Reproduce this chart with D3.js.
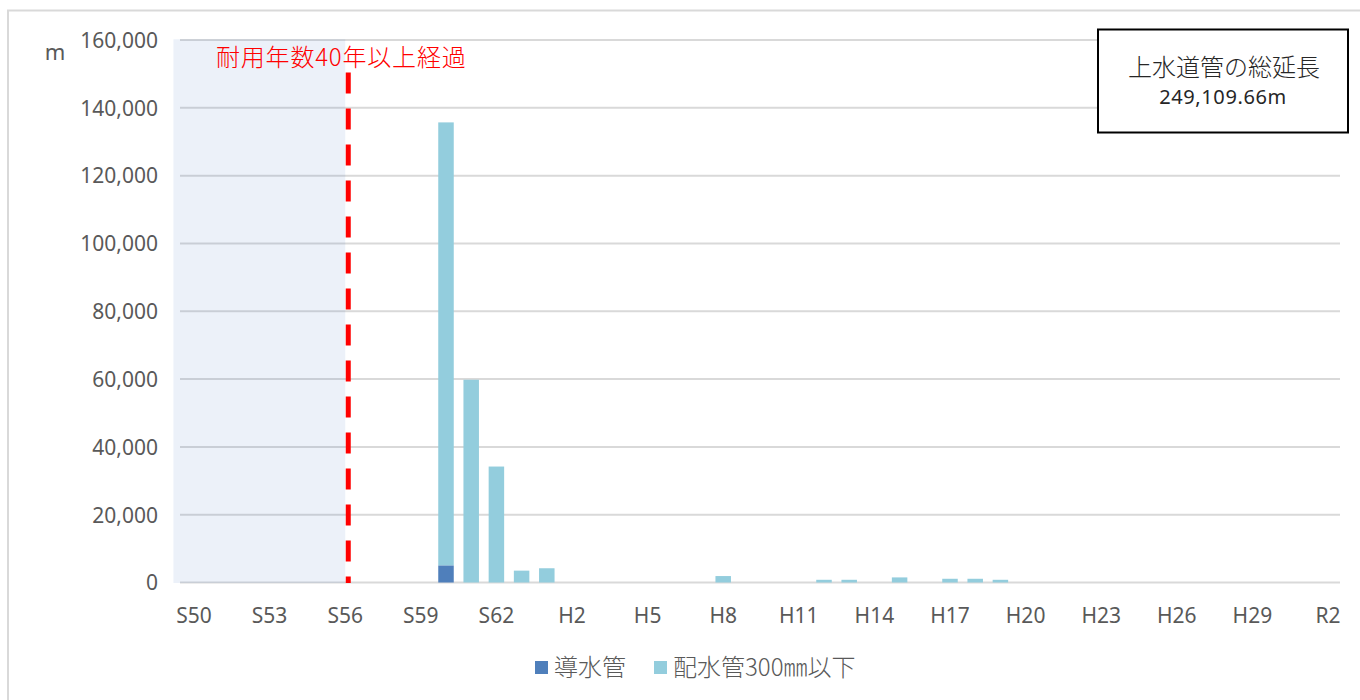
<!DOCTYPE html>
<html>
<head>
<meta charset="utf-8">
<script src="https://cdn.jsdelivr.net/npm/d3@7"></script>
<style>
  html, body { margin: 0; padding: 0; background: #fff; }
  svg { display: block; }
</style>
</head>
<body>
<svg id="chart" width="1360" height="700"></svg>
<script>
// Installation year (Showa / Heisei / Reiwa)
const years = [
  "S50","S51","S52","S53","S54","S55","S56","S57","S58","S59",
  "S60","S61","S62","S63",
  "H1","H2","H3","H4","H5","H6","H7","H8","H9","H10",
  "H11","H12","H13","H14","H15","H16","H17","H18","H19","H20",
  "H21","H22","H23","H24","H25","H26","H27","H28","H29","H30",
  "R1","R2"
];
// 導水管 length (m) per year
const dousuikan = [
  0,0,0,0,0,0,0,0,0,0,
  5000,0,0,0,
  0,0,0,0,0,0,0,0,0,0,
  0,0,0,0,0,0,0,0,0,0,
  0,0,0,0,0,0,0,0,0,0,
  0,0
];
// 配水管300㎜以下 length (m) per year
const haisuikan = [
  0,0,0,0,0,0,0,0,0,0,
  130700,59800,34200,3500,
  4200,0,0,0,0,0,0,1900,0,0,
  0,800,800,0,1500,0,1100,1100,800,0,
  0,0,0,0,0,0,0,0,0,0,
  0,0
];
const xTickLabels = ["S50","S53","S56","S59","S62","H2","H5","H8","H11","H14","H17","H20","H23","H26","H29","R2"];
const yTicks = [0,20000,40000,60000,80000,100000,120000,140000,160000];
const seriesNames = ["導水管","配水管300㎜以下"];
const seriesColors = ["#4f7fbb","#93cddd"];
const lifeLimitYear = "S56";
const lifeLimitLabel = "耐用年数40年以上経過";
const totalTitle = "上水道管の総延長";
const totalValue = "249,109.66m";
const unitLabel = "m";

const latin = "'Noto Sans', 'Noto Sans CJK JP', sans-serif";
const cjk = "'Noto Sans CJK JP', 'Noto Sans', sans-serif";
const axisGray = "#595959";

const svg = d3.select("#chart");

// outer chart frame
svg.append("rect")
  .attr("x", 8).attr("y", 10.5).attr("width", 1400).attr("height", 800)
  .attr("fill", "none").attr("stroke", "#d9d9d9").attr("stroke-width", 2);

const x = d3.scaleBand().domain(years).range([181.4, 1340.6])
  .paddingInner(0.385).paddingOuter(0.1925);
const y = d3.scaleLinear().domain([0, 160000]).range([582.5, 40]);

// horizontal gridlines
svg.append("g").selectAll("line").data(yTicks).join("line")
  .attr("x1", 180).attr("x2", 1340)
  .attr("y1", d => y(d)).attr("y2", d => y(d))
  .attr("stroke", "#d9d9d9").attr("stroke-width", 2);

// shaded span of pipes older than 40 years
const limitX = x(lifeLimitYear) + x.bandwidth() / 2 + x.step() * x.paddingInner() / 2 - 4.8;
svg.append("rect")
  .attr("x", x.range()[0] - 8).attr("y", y(160000) - 0.7)
  .attr("width", limitX - (x.range()[0] - 8))
  .attr("height", y(0) - y(160000) + 1.2)
  .attr("fill", "rgb(68,114,196)").attr("fill-opacity", 0.1);

// stacked bars
const stack = years.map((yr, i) => ({ yr, a: dousuikan[i], b: haisuikan[i] }));
const bars = svg.append("g");
bars.selectAll("rect.b").data(stack.filter(d => d.b > 0)).join("rect")
  .attr("class", "b")
  .attr("x", d => x(d.yr)).attr("width", x.bandwidth())
  .attr("y", d => y(d.a + d.b)).attr("height", d => y(d.a) - y(d.a + d.b))
  .attr("fill", seriesColors[1]);
bars.selectAll("rect.a").data(stack.filter(d => d.a > 0)).join("rect")
  .attr("class", "a")
  .attr("x", d => x(d.yr)).attr("width", x.bandwidth())
  .attr("y", d => y(d.a)).attr("height", d => y(0) - y(d.a))
  .attr("fill", seriesColors[0]);

// red dashed boundary line
svg.append("line")
  .attr("x1", limitX + 3).attr("x2", limitX + 3)
  .attr("y1", 72.5).attr("y2", y(0) + 0.5)
  .attr("stroke", "#ff0000").attr("stroke-width", 5)
  .attr("stroke-dasharray", "21,15");

svg.append("text")
  .attr("x", limitX - 4).attr("y", 66)
  .attr("text-anchor", "middle")
  .attr("font-family", cjk).attr("font-size", 24).attr("font-weight", 300)
  .attr("letter-spacing", 0.8)
  .attr("fill", "#ff0000")
  .text(lifeLimitLabel);

// y axis labels
const yAxis = svg.append("g").attr("transform", "translate(158,0)")
  .call(d3.axisLeft(y).tickValues(yTicks).tickSize(0).tickPadding(0)
    .tickFormat(d3.format(",")));
yAxis.select(".domain").remove();
yAxis.selectAll("text")
  .attr("font-family", latin).attr("font-size", 21).attr("fill", axisGray)
  .attr("dy", "0.35em");

// x axis labels
const xAxis = svg.append("g").attr("transform", `translate(0,${y(0)})`)
  .call(d3.axisBottom(x).tickValues(xTickLabels).tickSize(0).tickPadding(0));
xAxis.select(".domain").remove();
xAxis.selectAll("text")
  .attr("font-family", latin).attr("font-size", 21).attr("fill", axisGray)
  .attr("dy", null).attr("y", 40);

// unit label
svg.append("text")
  .attr("x", 55).attr("y", 60).attr("text-anchor", "middle")
  .attr("font-family", latin).attr("font-size", 22).attr("fill", axisGray)
  .text(unitLabel);

// total length box
svg.append("rect")
  .attr("x", 1098).attr("y", 29.5).attr("width", 250).attr("height", 103)
  .attr("fill", "#fff").attr("stroke", "#000").attr("stroke-width", 2);
svg.append("text")
  .attr("x", 1224).attr("y", 76).attr("text-anchor", "middle")
  .attr("font-family", cjk).attr("font-size", 24).attr("font-weight", 300)
  .attr("fill", "#262626")
  .text(totalTitle);
svg.append("text")
  .attr("x", 1223).attr("y", 104).attr("text-anchor", "middle")
  .attr("font-family", latin).attr("font-size", 20).attr("fill", "#262626")
  .attr("letter-spacing", 0.6)
  .text(totalValue);

// legend
const legendItems = [
  { name: seriesNames[0], color: seriesColors[0], x: 535 },
  { name: seriesNames[1], color: seriesColors[1], x: 654 }
];
const lg = svg.append("g").selectAll("g").data(legendItems).join("g")
  .attr("transform", d => `translate(${d.x},661)`);
lg.append("rect").attr("width", 13).attr("height", 13).attr("fill", d => d.color);
lg.append("text").attr("x", 19).attr("y", 15)
  .attr("font-family", cjk).attr("font-size", 24).attr("font-weight", 300)
  .attr("fill", axisGray)
  .text(d => d.name);
</script>
</body>
</html>
